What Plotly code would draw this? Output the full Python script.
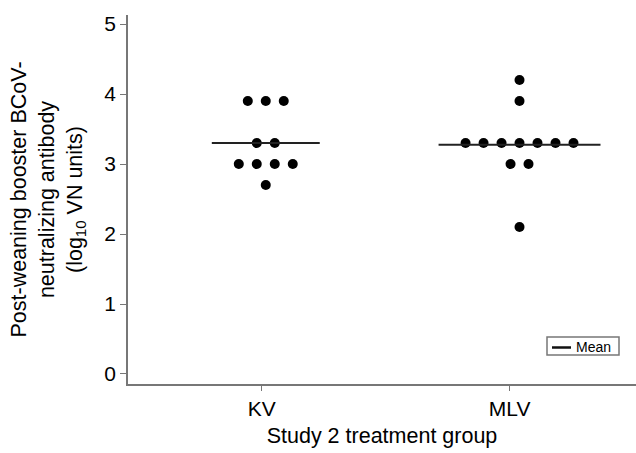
import plotly.graph_objects as go

# ---- data ----
groups = ["KV", "MLV"]
kv_values = [3.9, 3.9, 3.9, 3.3, 3.3, 3.0, 3.0, 3.0, 3.0, 2.7]
mlv_values = [4.2, 3.9, 3.3, 3.3, 3.3, 3.3, 3.3, 3.3, 3.3, 3.0, 3.0, 2.1]
y_ticks = [0, 1, 2, 3, 4, 5]
legend_label = "Mean"

# ---- layout constants ----
spacing = 0.0726          # horizontal dot spacing (axis units)
centers = [0.016, 1.04]   # dot-cloud centre for each group
FONT = "Liberation Sans, Arial, sans-serif"
FS_TICK = 21
FS_TITLE = 21.5

fig = go.Figure()

for gi, vals in enumerate([kv_values, mlv_values]):
    rows = {}
    for v in vals:
        rows[v] = rows.get(v, 0) + 1
    xs, ys = [], []
    for v, n in rows.items():
        for i in range(n):
            xs.append(centers[gi] + (i - (n - 1) / 2) * spacing)
            ys.append(v)
    fig.add_trace(go.Scatter(
        x=xs, y=ys, mode="markers",
        marker=dict(size=10, color="black"),
        showlegend=False, hoverinfo="skip"))
    mean = sum(vals) / len(vals)
    maxrow = max(rows.values())
    hw = ((maxrow - 1) / 2 + 1.5) * spacing
    fig.add_trace(go.Scatter(
        x=[centers[gi] - hw, centers[gi] + hw], y=[mean, mean],
        mode="lines", line=dict(color="#222222", width=2),
        name=legend_label, showlegend=False, hoverinfo="skip"))

# manual legend box (pixel-sized, placed in paper coords)
PW, PH = 508, 369  # plot area size in px
def px(xp):  # pixel x -> paper
    return (xp - 128) / PW
def py(yp):  # pixel y -> paper
    return (384 - yp) / PH

fig.add_shape(type="rect", xref="paper", yref="paper",
              x0=px(547), x1=px(619), y0=py(355), y1=py(337),
              line=dict(color="#777777", width=1.5), fillcolor="white")
fig.add_shape(type="line", xref="paper", yref="paper",
              x0=px(552), x1=px(571), y0=py(347.5), y1=py(347.5),
              line=dict(color="#111111", width=2.5))
fig.add_annotation(text=legend_label, xref="paper", yref="paper",
                   x=px(574), y=py(346.5), xanchor="left", yanchor="middle",
                   showarrow=False, font=dict(size=14, family=FONT, color="black"))

fig.update_layout(
    width=636, height=453,
    margin=dict(l=128, r=0, t=15, b=69),
    paper_bgcolor="white", plot_bgcolor="white",
    font=dict(family=FONT, color="black"),
    showlegend=False,
)
fig.update_xaxes(
    range=[-0.54, 1.51], tickvals=[0, 1], ticktext=groups,
    showline=True, linecolor="#777777", linewidth=1.5,
    ticks="outside", ticklen=5, tickcolor="#777777", tickwidth=1,
    showgrid=False, zeroline=False,
    tickfont=dict(size=FS_TICK, family=FONT),
    title=dict(text="Study 2 treatment group", font=dict(size=FS_TITLE, family=FONT), standoff=9),
)
fig.update_yaxes(
    range=[-0.143, 5.13], tickvals=y_ticks,
    showline=True, linecolor="#777777", linewidth=1.5,
    ticks="outside", ticklen=6, tickcolor="#777777", tickwidth=1,
    showgrid=False, zeroline=False,
    tickfont=dict(size=FS_TICK, family=FONT),
    title=dict(text="Post-weaning booster BCoV-<br>neutralizing antibody<br>(log<sub>10</sub> VN units)",
               font=dict(size=FS_TITLE, family=FONT), standoff=16),
)

fig.write_html("out.html")
